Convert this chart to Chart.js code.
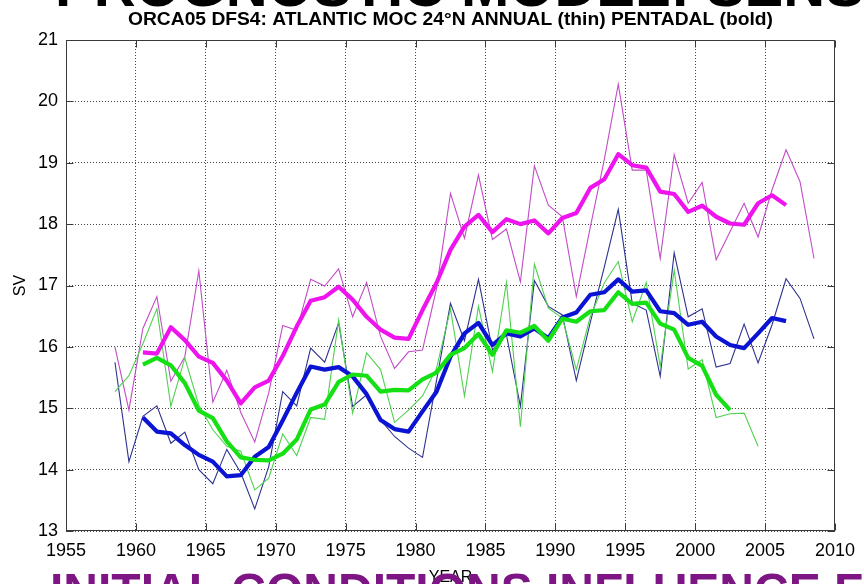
<!DOCTYPE html>
<html>
<head>
<meta charset="utf-8">
<script src="https://cdn.jsdelivr.net/npm/chart.js@4.4.1/dist/chart.umd.min.js"></script>
<style>
  html, body { margin: 0; padding: 0; background: #ffffff; }
  #wrap { width: 864px; height: 584px; position: relative; }
</style>
</head>
<body>
<div id="wrap"><canvas id="moc" width="864" height="584"></canvas></div>
<script>
// Atlantic MOC at 24N (Sv), ORCA05 DFS4 runs: annual means (thin) and pentadal means (bold)
const annualYears = [1958,1959,1960,1961,1962,1963,1964,1965,1966,1967,1968,1969,1970,1971,1972,1973,1974,1975,1976,1977,1978,1979,1980,1981,1982,1983,1984,1985,1986,1987,1988,1989,1990,1991,1992,1993,1994,1995,1996,1997,1998,1999,2000,2001,2002,2003,2004,2005,2006,2007,2008];
const pentadYears = [1960,1961,1962,1963,1964,1965,1966,1967,1968,1969,1970,1971,1972,1973,1974,1975,1976,1977,1978,1979,1980,1981,1982,1983,1984,1985,1986,1987,1988,1989,1990,1991,1992,1993,1994,1995,1996,1997,1998,1999,2000,2001,2002,2003,2004,2005,2006];

const magentaAnnual = [16.00,14.97,16.30,16.82,15.44,15.84,17.24,15.10,15.62,14.93,14.45,15.25,16.35,16.27,17.10,16.99,17.27,16.49,17.05,16.17,15.65,15.92,15.95,16.95,18.50,17.77,18.80,17.75,17.92,17.06,18.95,18.31,18.12,16.82,17.95,19.05,20.28,18.88,18.88,17.44,19.13,18.34,18.68,17.42,17.88,18.34,17.79,18.56,19.21,18.69,17.44];
const navyAnnual = [15.75,14.13,14.87,15.04,14.43,14.61,14.00,13.77,14.33,13.95,13.36,14.05,15.27,15.04,15.98,15.75,16.39,15.03,15.22,14.81,14.54,14.35,14.20,15.45,16.71,16.10,17.10,15.95,16.20,15.03,17.08,16.66,16.52,15.45,16.40,17.30,18.24,16.71,16.60,15.52,17.53,16.49,16.62,15.67,15.73,16.37,15.74,16.36,17.11,16.79,16.13];
const greenAnnual = [15.27,15.53,16.05,16.62,15.03,15.82,15.05,14.65,14.38,14.30,13.67,13.86,14.58,14.23,14.85,14.82,16.44,14.92,15.90,15.63,14.77,14.97,15.20,15.65,16.62,15.20,16.66,15.60,17.05,14.70,17.35,16.63,16.47,15.63,16.49,17.04,17.39,16.41,17.05,15.68,17.25,15.64,15.79,14.85,14.91,14.92,14.38];

const magentaPentad = [15.91,15.89,16.32,16.11,15.84,15.74,15.45,15.08,15.34,15.45,15.85,16.33,16.75,16.81,16.98,16.77,16.49,16.28,16.15,16.13,16.60,17.04,17.58,17.96,18.15,17.87,18.08,18.00,18.06,17.85,18.10,18.18,18.59,18.73,19.14,18.96,18.92,18.53,18.49,18.20,18.30,18.12,18.01,17.99,18.34,18.47,18.31];
const bluePentad = [14.85,14.62,14.59,14.40,14.24,14.13,13.89,13.91,14.21,14.37,14.80,15.25,15.68,15.63,15.67,15.52,15.23,14.81,14.66,14.62,14.95,15.27,15.84,16.22,16.39,16.03,16.22,16.17,16.30,16.14,16.48,16.56,16.85,16.89,17.10,16.90,16.92,16.58,16.55,16.36,16.41,16.17,16.03,15.98,16.22,16.47,16.42];
const greenPentad = [15.71,15.82,15.70,15.41,14.96,14.84,14.46,14.20,14.16,14.15,14.26,14.49,14.98,15.06,15.43,15.55,15.53,15.27,15.30,15.29,15.47,15.58,15.87,15.98,16.21,15.87,16.27,16.23,16.34,16.10,16.46,16.41,16.58,16.60,16.89,16.70,16.72,16.38,16.28,15.82,15.69,15.22,14.97];

const xTicks = [1955,1960,1965,1970,1975,1980,1985,1990,1995,2000,2005,2010];
const yTicks = [13,14,15,16,17,18,19,20,21];

const chartTitle = 'ORCA05 DFS4: ATLANTIC MOC 24\u00B0N ANNUAL (thin) PENTADAL (bold)';
const slideHeading = 'PROGNOSTIC MODEL: SENSITIVITY';
const slideFooter = 'INITIAL CONDITIONS INFLUENCE F';

// yearly means are plotted at the middle of their year
const MID_YEAR = 0.5;
function pairs(years, values) {
  return values.map((v, i) => ({ x: years[i] + MID_YEAR, y: v }));
}

function series(label, years, values, color, width) {
  return {
    label,
    data: pairs(years, values),
    borderColor: color,
    borderWidth: width,
    pointRadius: 0,
    pointHoverRadius: 0,
    tension: 0,
    fill: false,
    borderJoinStyle: width > 2 ? 'round' : 'miter',
    borderCapStyle: 'butt'
  };
}

// box, inward tick marks and the slide texts around the plot
const decorations = {
  id: 'decorations',
  afterDatasetsDraw(chart) {
    const { ctx, chartArea: a, scales } = chart;
    const L = Math.round(a.left) + 0.5, R = Math.round(a.right) - 0.5;
    const T = Math.round(a.top) + 0.5, B = Math.round(a.bottom) - 0.5;
    const len = 7;
    ctx.save();
    ctx.strokeStyle = '#3a3a3a';
    ctx.lineWidth = 1;
    ctx.setLineDash([]);
    ctx.strokeRect(L, T, R - L, B - T);
    ctx.beginPath();
    scales.x.ticks.forEach(t => {
      const px = Math.round(scales.x.getPixelForValue(t.value)) + 0.5;
      ctx.moveTo(px, T); ctx.lineTo(px, T + len);
      ctx.moveTo(px, B); ctx.lineTo(px, B - len);
    });
    scales.y.ticks.forEach(t => {
      const py = Math.round(scales.y.getPixelForValue(t.value)) + 0.5;
      ctx.moveTo(L, py); ctx.lineTo(L + len, py);
      ctx.moveTo(R, py); ctx.lineTo(R - len, py);
    });
    ctx.stroke();
    ctx.restore();
  },
  afterDraw(chart) {
    const { ctx, chartArea: a } = chart;
    ctx.save();
    // chart title, narrow bold face
    ctx.fillStyle = '#000';
    ctx.font = 'bold 19px "Liberation Sans", Arial, sans-serif';
    ctx.textAlign = 'center';
    ctx.textBaseline = 'alphabetic';
    const w = ctx.measureText(chartTitle).width;
    ctx.save();
    ctx.translate((a.left + a.right) / 2, 25);
    ctx.scale(645 / w, 1);
    ctx.fillText(chartTitle, 0, 0);
    ctx.restore();
    // slide heading above, slide footer below
    ctx.textAlign = 'left';
    ctx.font = 'bold 58px "Liberation Sans", Arial, sans-serif';
    ctx.fillStyle = '#000';
    ctx.fillText(slideHeading, 55, 6);
    ctx.font = 'bold 48px "Liberation Sans", Arial, sans-serif';
    ctx.fillStyle = '#7e1585';
    ctx.fillText(slideFooter, 50, 607);
    ctx.restore();
  }
};

const gridColor = 'rgba(0,0,0,0.72)';
const tickFont = { family: '"Liberation Sans", Arial, sans-serif', size: 18 };

new Chart(document.getElementById('moc'), {
  type: 'line',
  data: {
    datasets: [
      series('Pentadal (green)', pentadYears, greenPentad, '#14e014', 4.2),
      series('Pentadal (blue)', pentadYears, bluePentad, '#0a14d2', 4.2),
      series('Pentadal (magenta)', pentadYears, magentaPentad, '#ee14ee', 4.2),
      series('Annual (green)', annualYears, greenAnnual, '#4fd24f', 1.1),
      series('Annual (navy)', annualYears, navyAnnual, '#2e3290', 1.1),
      series('Annual (magenta)', annualYears, magentaAnnual, '#c24cc8', 1.1)
    ]
  },
  options: {
    responsive: false,
    devicePixelRatio: 1,
    animation: false,
    layout: { padding: { top: 40, right: 24, bottom: 0, left: 0 } },
    plugins: {
      legend: { display: false },
      tooltip: { enabled: false },
      title: { display: false }
    },
    scales: {
      x: {
        type: 'linear',
        min: xTicks[0],
        max: xTicks[xTicks.length - 1],
        afterBuildTicks: s => { s.ticks = xTicks.map(v => ({ value: v })); },
        afterFit: s => { s.height = 53; },
        ticks: {
          autoSkip: false,
          maxRotation: 0,
          padding: 9,
          color: '#000',
          font: tickFont,
          callback: v => String(v)
        },
        grid: { color: gridColor, lineWidth: 1, drawTicks: false },
        border: { display: false, dash: [1, 2] },
        title: {
          display: true,
          text: 'YEAR',
          color: '#000',
          font: { family: '"Liberation Sans", Arial, sans-serif', size: 16 },
          padding: { top: 0, bottom: -3 }
        }
      },
      y: {
        min: yTicks[0],
        max: yTicks[yTicks.length - 1],
        afterBuildTicks: s => { s.ticks = yTicks.map(v => ({ value: v })); },
        afterFit: s => { s.width = 66; },
        ticks: {
          padding: 8,
          color: '#000',
          font: tickFont,
          callback: v => String(v)
        },
        grid: { color: gridColor, lineWidth: 1, drawTicks: false },
        border: { display: false, dash: [1, 2] },
        title: {
          display: true,
          text: 'SV',
          color: '#000',
          font: { family: '"Liberation Sans", Arial, sans-serif', size: 16 },
          padding: { top: 11, bottom: 0 }
        }
      }
    }
  },
  plugins: [decorations]
});
</script>
</body>
</html>
